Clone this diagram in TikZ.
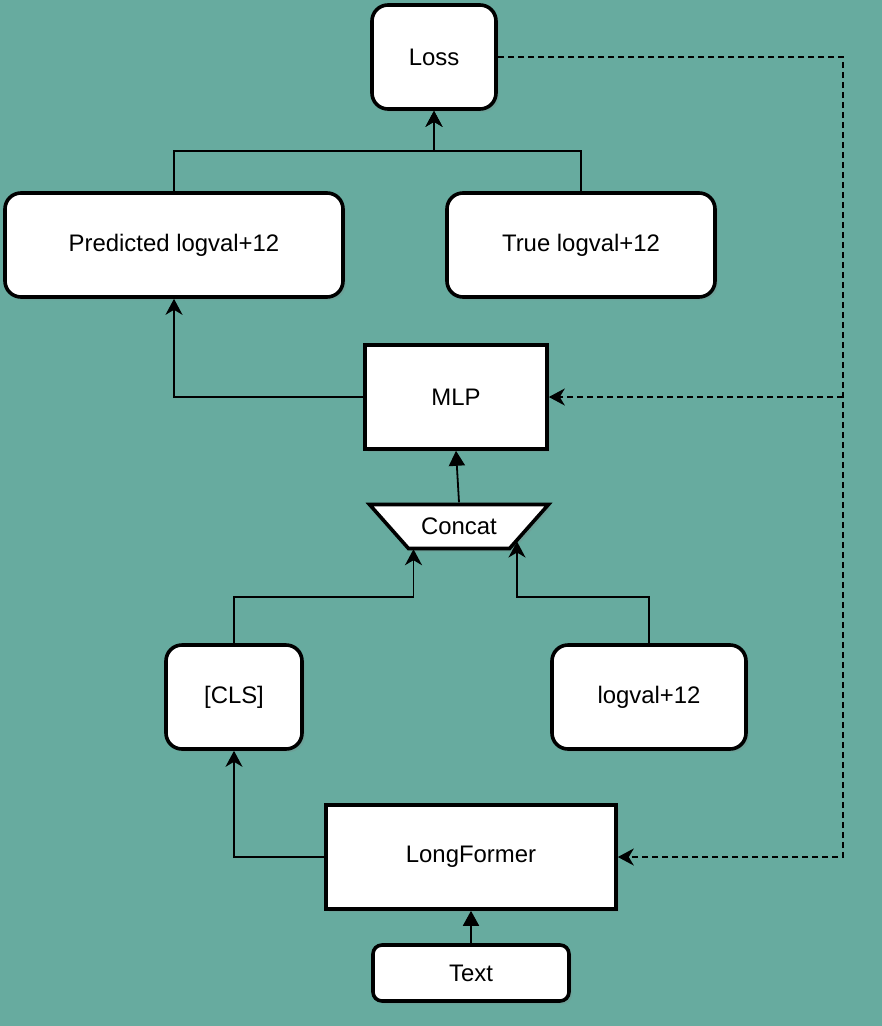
\documentclass[tikz,border=0pt]{standalone}
\usepackage{fontspec}
\setmainfont{Liberation Sans}
\usetikzlibrary{arrows.meta,shadows}
\definecolor{bgteal}{HTML}{67AB9F}

\begin{document}
\begin{tikzpicture}[x=1pt,y=-1pt,
  font=\fontsize{23.9}{28}\selectfont,
  edge/.style={draw,line width=3.6pt,fill=white,
    drop shadow={opacity=0.22,shadow xshift=3pt,shadow yshift=-3pt}},
  box/.style={edge,minimum height=104pt,inner sep=0pt},
  rbox/.style={box,rounded corners=16pt},
  link/.style={line width=1.8pt,-{Stealth[length=16pt,width=17pt,inset=5pt]}},
  flow/.style={line width=1.8pt,-{Triangle[length=15pt,width=16pt]}},
  loop/.style={link,dash pattern=on 6pt off 4pt}]

  % background, same size as the reference
  \fill[bgteal] (0,0) rectangle (882,1026);

  \def\rail{843}

  % concat block: drawn first, its text node goes on top
  \path[edge,line join=miter] (369.5,504.5) -- (548.5,504.5) -- (509.5,548.5)
    -- (408.5,548.5) -- cycle;

  % nodes
  \node[rbox,minimum width=124pt] (loss)   at (434,57)  {Loss};
  \node[rbox,minimum width=338pt] (pred)   at (174,245) {Predicted logval+12};
  \node[rbox,minimum width=268pt] (true)   at (581,245) {True logval+12};
  \node[box,minimum width=182pt]  (mlp)    at (456,397) {MLP};
  \node[minimum width=179pt,minimum height=44pt,inner sep=0pt]
                                  (concat) at (459,526) {Concat};
  \node[rbox,minimum width=136pt] (cls)    at (234,697) {[CLS]};
  \node[rbox,minimum width=194pt] (logval) at (649,697) {logval+12};
  \node[box,minimum width=290pt]  (lf)     at (471,857) {LongFormer};
  \node[rbox,rounded corners=9pt,minimum width=196pt,minimum height=56pt]
                                  (text)   at (471,973) {Text};

  % entry points on the concat block
  \coordinate (cinl) at ([xshift=-45.5pt,yshift=-1pt]concat.south);
  \coordinate (cinr) at ([xshift=58pt,yshift=-15.5pt]concat.center);
  \coordinate (cout) at ([yshift=1.5pt]concat.north);
  \coordinate (rtop) at (\rail,57);

  % connectors
  \draw[link] (pred.north) -- ++(0,-40) -| (loss.south);
  \draw[link] (true.north) -- ++(0,-40) -| (loss.south);
  \draw[link] (mlp.west) -| (pred.south);
  \draw[flow] (cout) -- (mlp.south);
  \draw[link] (cls.north) -- ++(0,-46) -| (cinl);
  \draw[link] (logval.north) -- ++(0,-46) -| (cinr);
  \draw[link] (lf.west) -| (cls.south);
  \draw[flow] (text.north) -- (lf.south);

  % feedback from the loss
  \draw[loop] (loss.east) -- (rtop) |- (lf.east);
  \draw[loop] (rtop |- mlp.east) -- (mlp.east);
\end{tikzpicture}
\end{document}
